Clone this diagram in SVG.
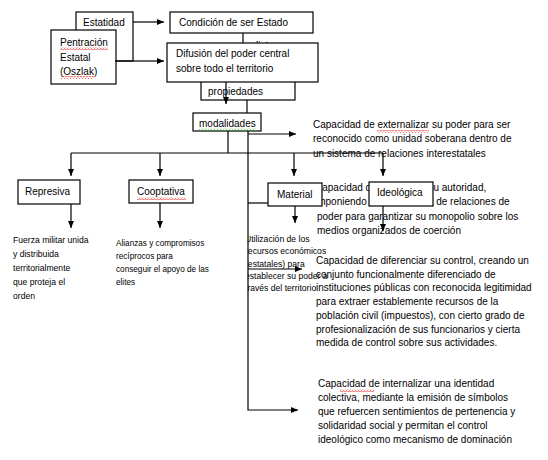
<svg xmlns="http://www.w3.org/2000/svg" width="548" height="460" viewBox="0 0 548 460">
<style>
.box{fill:#fff;stroke:#000;stroke-width:1.2}
.lbl{font-family:"Liberation Sans",Arial,sans-serif;font-size:10px;fill:#000}
.par{font-family:"Liberation Sans",Arial,sans-serif;font-size:10px;fill:#000}
.sm{font-family:"Liberation Sans",Arial,sans-serif;font-size:8.6px;fill:#000}
.sm2{font-family:"Liberation Sans",Arial,sans-serif;font-size:8.2px;fill:#000}
.con{fill:none;stroke:#000;stroke-width:1.2}
.arr{marker-end:url(#ah)}
</style>
<defs>
<marker id="ah" markerWidth="7" markerHeight="6" refX="7" refY="3" orient="auto" markerUnits="userSpaceOnUse"><path d="M0,0 L7,3 L0,6 z" fill="#000"/></marker>
<pattern id="wr" width="3" height="3" patternUnits="userSpaceOnUse"><path d="M0,2.5 L1.5,0.5 L3,2.5" fill="none" stroke="#e02020" stroke-width="0.7"/></pattern>
<pattern id="wg" width="3" height="3" patternUnits="userSpaceOnUse"><path d="M0,2.5 L1.5,0.5 L3,2.5" fill="none" stroke="#30a030" stroke-width="0.7"/></pattern>
<clipPath id="cu"><rect x="247.5" y="228" width="120" height="72"/></clipPath>
</defs>
<rect width="548" height="460" fill="#fff"/>

<g id="texts">
<text class="lbl" x="256" y="49">lista</text>
<g id="t-externalizar" class="par">
<text x="313" y="128">Capacidad de externalizar su poder para ser</text>
<text x="313" y="142">reconocido como unidad soberana dentro de</text>
<text x="313" y="157">un sistema de relaciones interestatales</text>
<rect x="377" y="130" width="52" height="3" fill="url(#wr)"/>
</g>
<g id="t-centralizar" class="par">
<text x="315" y="191">Capacidad de centralizar su autoridad,</text>
<text x="315" y="205">imponiendo una estructura de relaciones de</text>
<text x="317" y="219.5">poder para garantizar su monopolio sobre los</text>
<text x="317" y="233.5">medios organizados de coerción</text>
</g>
<g id="t-diferenciar" class="par">
<text x="316" y="264">Capacidad de diferenciar su control, creando un</text>
<text x="316" y="277.7">conjunto funcionalmente diferenciado de</text>
<text x="316" y="291.4">instituciones públicas con reconocida legitimidad</text>
<text x="316" y="305.1">para extraer establemente recursos de la</text>
<text x="316" y="318.8">población civil (impuestos), con cierto grado de</text>
<text x="316" y="332.5">profesionalización de sus funcionarios y cierta</text>
<text x="316" y="346.2">medida de control sobre sus actividades.</text>
</g>
<g id="t-internalizar" class="par">
<text x="318" y="387">Capacidad de internalizar una identidad</text>
<text x="318" y="401">colectiva, mediante la emisión de símbolos</text>
<text x="318" y="415">que refuercen sentimientos de pertenencia y</text>
<text x="318" y="429">solidaridad social y permitan el control</text>
<text x="318" y="443">ideológico como mecanismo de dominación</text>
<rect x="340" y="389" width="34" height="3" fill="url(#wr)"/>
</g>
<g id="t-fuerza" class="sm">
<text x="13" y="243">Fuerza militar unida</text>
<text x="13" y="256.5">y distribuida</text>
<text x="13" y="270.5">territorialmente</text>
<text x="13" y="284.5">que proteja el</text>
<text x="13" y="298.5">orden</text>
</g>
<g id="t-alianzas" class="sm2">
<text x="116" y="246">Alianzas y compromisos</text>
<text x="116" y="259">recíprocos para</text>
<text x="116" y="272">conseguir el apoyo de las</text>
<text x="116" y="285">elites</text>
</g>
<g id="t-utilizacion" class="sm" clip-path="url(#cu)">
<text x="245" y="242">Utilización de los</text>
<text x="245" y="254">recursos económicos</text>
<text x="245" y="266.5">(estatales) para</text>
<text x="245" y="279">establecer su poder a</text>
<text x="245" y="291">través del territorio</text>
</g>
</g>

<g id="n-estatidad">
<rect class="box" x="76" y="12" width="57" height="49"/>
<text class="lbl" x="83" y="26">Estatidad</text>
</g>
<g id="n-pentracion">
<rect class="box" x="51" y="30" width="65" height="54"/>
<text class="lbl" x="60" y="46">Pentración</text>
<text class="lbl" x="60" y="61">Estatal</text>
<text class="lbl" x="60" y="75">(Oszlak)</text>
<rect x="60" y="47" width="48" height="3" fill="url(#wr)"/>
<rect x="61" y="76" width="33" height="3" fill="url(#wr)"/>
</g>
<g id="n-condicion">
<rect class="box" x="170" y="12" width="143" height="21"/>
<text class="lbl" x="179" y="26">Condición de ser Estado</text>
</g>
<g id="n-propiedades">
<rect class="box" x="201" y="78" width="94" height="22"/>
<text class="lbl" x="208" y="95">propiedades</text>
</g>
<g id="n-difusion">
<rect class="box" x="167" y="43" width="151" height="39"/>
<text class="lbl" x="176" y="57">Difusión del poder central</text>
<text class="lbl" x="176" y="72">sobre todo el territorio</text>
</g>
<g id="n-modalidades">
<rect class="box" x="193" y="113" width="68" height="18"/>
<text class="lbl" x="199" y="127">modalidades</text>
<rect x="199" y="128" width="57" height="3" fill="url(#wg)"/>
</g>
<g id="n-represiva">
<rect class="box" x="18" y="180" width="62" height="24"/>
<text class="lbl" x="25" y="195">Represiva</text>
</g>
<g id="n-cooptativa">
<rect class="box" x="129" y="180" width="64" height="23"/>
<text class="lbl" x="137" y="195">Cooptativa</text>
<rect x="137" y="197" width="49" height="3" fill="url(#wr)"/>
</g>
<g id="n-material">
<rect class="box" x="268" y="183" width="54" height="23"/>
<text class="lbl" x="277" y="198">Material</text>
</g>
<g id="n-ideologica">
<rect class="box" x="369" y="182" width="64" height="24"/>
<text class="lbl" x="377" y="196">Ideológica</text>
</g>

<g id="connectors">
<path class="con arr" d="M133,22 H164"/>
<path class="con" d="M115,61 H133" stroke-width="2.2"/>
<path class="con arr" d="M133,61 H164"/>
<path class="con" d="M243,33 V43"/>
<path class="con arr" d="M226,82 V104"/>
<path class="con" d="M247,100 V113"/>
<path class="con" d="M228,131 V153"/>
<path class="con" d="M71,153 H383"/>
<path class="con arr" d="M71,153 V176"/>
<path class="con arr" d="M160,153 V176"/>
<path class="con arr" d="M294,153 V176"/>
<path class="con arr" d="M383,153 V176"/>
<path class="con arr" d="M71,204 V228"/>
<path class="con arr" d="M160,203 V228"/>
<path class="con arr" d="M295,206 V223"/>
<path class="con arr" d="M383,206 V231"/>
<path class="con arr" d="M248,134 H296"/>
<path class="con arr" d="M248,131 V410 H298"/>
<path class="con" d="M248,203 H268"/>
<path class="con arr" d="M248,269 H302"/>
</g>
</svg>
